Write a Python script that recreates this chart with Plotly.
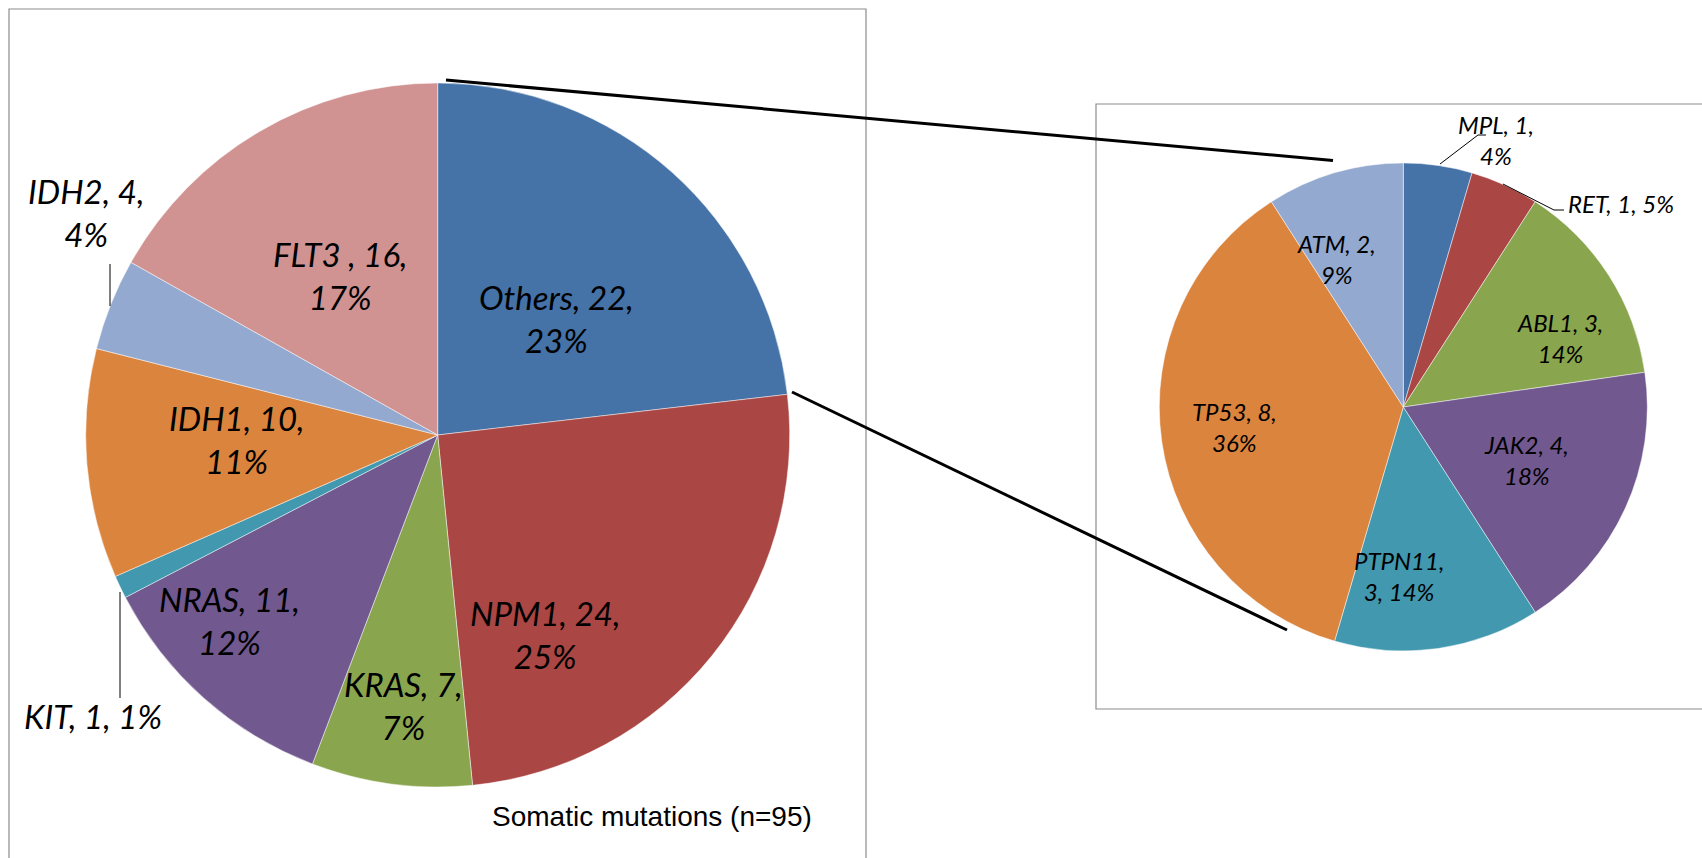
import plotly.graph_objects as go

# ---------------- data ----------------
main_genes = ["Others", "NPM1", "KRAS", "NRAS", "KIT", "IDH1", "IDH2", "FLT3 "]
main_counts = [22, 24, 7, 11, 1, 10, 4, 16]
main_pct_labels = ["23%", "25%", "7%", "12%", "1%", "11%", "4%", "17%"]
main_colors = ["#4572A7", "#AA4643", "#89A54E", "#71588F", "#4198AF", "#DB843D", "#93A9CF", "#D19392"]

other_genes = ["MPL", "RET", "ABL1", "JAK2", "PTPN11", "TP53", "ATM"]
other_counts = [1, 1, 3, 4, 3, 8, 2]
other_pct_labels = ["4%", "5%", "14%", "18%", "14%", "36%", "9%"]
other_colors = ["#4572A7", "#AA4643", "#89A54E", "#71588F", "#4198AF", "#DB843D", "#93A9CF"]

subtitle = "Somatic mutations (n=95)"

# ---------------- layout helpers ----------------
W, H = 1702, 858


def px(x):
    return x / W


def py(y):
    return 1 - y / H


def domain(cx, cy, r):
    return dict(x=[px(cx - r), px(cx + r)], y=[py(cy + r), py(cy - r)])


# label placement (pixel position, anchor, line-break pattern) -- styling/positions only
main_label_pos = {
    "Others": (556, 318, "center", "two"),
    "NPM1": (545, 634, "center", "two"),
    "KRAS": (403, 705, "center", "two"),
    "NRAS": (229, 620, "center", "two"),
    "KIT": (93, 716, "center", "one"),
    "IDH1": (237, 439, "center", "two"),
    "IDH2": (86, 213, "center", "two"),
    "FLT3 ": (340, 275, "center", "two"),
}
other_label_pos = {
    "MPL": (1496, 140, "center", "two"),
    "RET": (1566, 204, "left", "one"),
    "ABL1": (1560, 338, "center", "two"),
    "JAK2": (1526, 460, "center", "two"),
    "PTPN11": (1399, 576, "center", "ptpn"),
    "TP53": (1234, 427, "center", "two"),
    "ATM": (1336, 259, "center", "two"),
}


def label_text(g, c, p, mode):
    if mode == "one":
        return f"{g}, {c}, {p}"
    if mode == "ptpn":
        return f"{g},<br>{c}, {p}"
    return f"{g}, {c},<br>{p}"


fig = go.Figure()

fig.add_trace(go.Pie(
    labels=main_genes, values=main_counts, sort=False, direction="clockwise",
    rotation=0, textinfo="none", hoverinfo="label+value+percent",
    marker=dict(colors=main_colors, line=dict(color="rgba(255,255,255,0.6)", width=0.8)),
    domain=domain(437.7, 435, 352), showlegend=False,
))
fig.add_trace(go.Pie(
    labels=other_genes, values=other_counts, sort=False, direction="clockwise",
    rotation=0, textinfo="none", hoverinfo="label+value+percent",
    marker=dict(colors=other_colors, line=dict(color="rgba(255,255,255,0.6)", width=0.8)),
    domain=domain(1403.3, 407, 244), showlegend=False,
))

annotations = []
for g, c, p in zip(main_genes, main_counts, main_pct_labels):
    x, y, anchor, mode = main_label_pos[g]
    annotations.append(dict(
        x=px(x), y=py(y), xref="paper", yref="paper", showarrow=False,
        text=label_text(g, c, p, mode), align="center", xanchor=anchor, yanchor="middle",
        font=dict(family="Lato", size=33, color="black", style="italic"),
    ))
for g, c, p in zip(other_genes, other_counts, other_pct_labels):
    x, y, anchor, mode = other_label_pos[g]
    annotations.append(dict(
        x=px(x), y=py(y), xref="paper", yref="paper", showarrow=False,
        text=label_text(g, c, p, mode), align="center", xanchor=anchor, yanchor="middle",
        font=dict(family="Lato", size=24, color="black", style="italic"),
    ))
annotations.append(dict(
    x=px(652), y=py(816), xref="paper", yref="paper", showarrow=False,
    text=subtitle, xanchor="center", yanchor="middle",
    font=dict(family="Liberation Sans", size=28, color="black"),
))

shapes = [
    # frames
    dict(type="rect", xref="paper", yref="paper", x0=px(9), y0=py(9), x1=px(866), y1=py(880),
         line=dict(color="#8C8C8C", width=1.2), layer="below"),
    dict(type="rect", xref="paper", yref="paper", x0=px(1096), y0=py(104), x1=px(1720), y1=py(709),
         line=dict(color="#8C8C8C", width=1.2), layer="below"),
    # connector lines between the pies
    dict(type="line", xref="paper", yref="paper", x0=px(446), y0=py(80), x1=px(1333), y1=py(160.5),
         line=dict(color="black", width=3)),
    dict(type="line", xref="paper", yref="paper", x0=px(792), y0=py(392), x1=px(1287), y1=py(630),
         line=dict(color="black", width=3)),
    # leader lines
    dict(type="line", xref="paper", yref="paper", x0=px(110), y0=py(264), x1=px(110), y1=py(306),
         line=dict(color="black", width=1)),
    dict(type="line", xref="paper", yref="paper", x0=px(120), y0=py(592), x1=px(120), y1=py(698),
         line=dict(color="black", width=1)),
    dict(type="path", xref="paper", yref="paper",
         path=f"M {px(1440)},{py(164)} L {px(1478)},{py(135)} L {px(1486)},{py(135)}",
         line=dict(color="black", width=1)),
    dict(type="path", xref="paper", yref="paper",
         path=f"M {px(1503)},{py(184)} L {px(1554)},{py(210)} L {px(1564)},{py(210)}",
         line=dict(color="black", width=1)),
]

fig.update_layout(
    width=W, height=H, margin=dict(l=0, r=0, t=0, b=0),
    paper_bgcolor="white", plot_bgcolor="white",
    annotations=annotations, shapes=shapes, showlegend=False,
)

fig.write_html("out.html")
